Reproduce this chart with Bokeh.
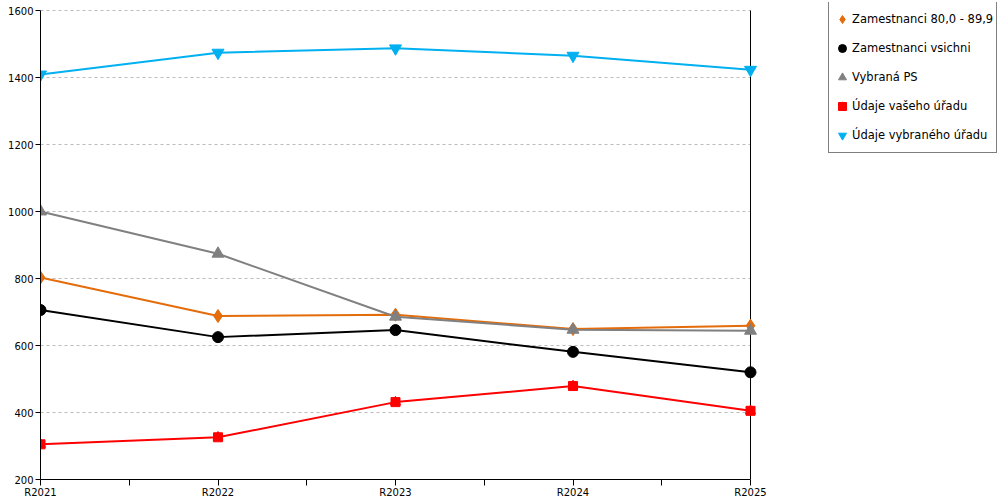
from bokeh.plotting import figure
from bokeh.models import Range1d, FixedTicker, Legend, LegendItem
from bokeh.embed import file_html
from bokeh.resources import INLINE

categories = ["R2021", "R2022", "R2023", "R2024", "R2025"]
zam_80_89 = [803, 688, 692, 649, 659]
zam_vsichni = [706, 625, 646, 581, 520]
vybrana_ps = [1000, 874, 686, 647, 644]
udaje_vaseho = [305, 326, 431, 479, 405]
udaje_vybraneho = [1409, 1474, 1487, 1465, 1423]
y_ticks = [200, 400, 600, 800, 1000, 1200, 1400, 1600]
names = ["Zamestnanci 80,0 - 89,9", "Zamestnanci vsichni", "Vybraná PS",
         "Údaje vašeho úřadu", "Údaje vybraného úřadu"]

FONT = "DejaVu Sans"
xs = list(range(len(categories)))

# layout (pixels)
W, H = 1000, 500
BORDER_L, BORDER_T = 40, 2
BOTTOM_PANEL = 21
FRAME_W = W - BORDER_L
FRAME_H = H - BORDER_T - BOTTOM_PANEL
DATA_W = 710          # pixel width covered by the categories
TOP_GAP = 8           # pixels between frame top and the top tick
x_end = (len(xs) - 1) * FRAME_W / DATA_W
y_per_px = (y_ticks[-1] - y_ticks[0]) / (FRAME_H - TOP_GAP)
y_end = y_ticks[-1] + TOP_GAP * y_per_px

p = figure(width=W, height=H,
           min_border_left=BORDER_L, min_border_top=BORDER_T, min_border_right=0,
           min_border_bottom=5,
           x_range=Range1d(0, x_end), y_range=Range1d(y_ticks[0], y_end),
           output_backend="svg", toolbar_location=None)
p.outline_line_color = None
p.background_fill_color = "white"
p.border_fill_color = "white"
p.xgrid.visible = False
p.ygrid.visible = False

# axes
p.xaxis.ticker = FixedTicker(ticks=xs, minor_ticks=[i + 0.5 for i in xs[:-1]])
p.xaxis.major_label_overrides = {i: c for i, c in zip(xs, categories)}
p.xaxis.bounds = (xs[0], xs[-1])
p.xaxis.major_tick_out = 6
p.xaxis.major_tick_in = 0
p.xaxis.minor_tick_out = 6
p.xaxis.minor_tick_in = 0
p.xaxis.major_label_standoff = 1
p.yaxis.ticker = FixedTicker(ticks=y_ticks, minor_ticks=[])
p.yaxis.bounds = (y_ticks[0], y_ticks[-1])
p.yaxis.major_tick_out = 5
p.yaxis.major_tick_in = 0
p.yaxis.major_label_standoff = 2
for ax in (p.xaxis[0], p.yaxis[0]):
    ax.axis_line_color = "black"
    ax.major_tick_line_color = "black"
    ax.minor_tick_line_color = "black"
    ax.major_label_text_font = FONT
    ax.major_label_text_font_size = "10px"
    ax.major_label_text_color = "black"

# horizontal dotted grid limited to the category span
p.segment(x0=[xs[0]] * len(y_ticks), x1=[xs[-1]] * len(y_ticks), y0=y_ticks, y1=y_ticks,
          line_color="#bbbbbb", line_dash="3 3", line_width=1)
# right border line
p.segment(x0=[xs[-1]], x1=[xs[-1]], y0=[y_ticks[0]], y1=[y_ticks[-1]],
          line_color="black", line_width=1)

items = []

c = "#E46C0A"
p.line(xs, zam_80_89, line_color=c, line_width=2)
r = p.scatter(xs, zam_80_89, marker="diamond", size=13, fill_color=c, line_color=c)
items.append(LegendItem(label=names[0], renderers=[r]))

c = "black"
p.line(xs, zam_vsichni, line_color=c, line_width=2)
r = p.scatter(xs, zam_vsichni, marker="circle", size=11, fill_color=c, line_color=c)
items.append(LegendItem(label=names[1], renderers=[r]))

c = "#808080"
p.line(xs, vybrana_ps, line_color=c, line_width=2)
r = p.scatter(xs, vybrana_ps, marker="triangle", size=12, fill_color=c, line_color=c)
items.append(LegendItem(label=names[2], renderers=[r]))

c = "#FF0000"
p.line(xs, udaje_vaseho, line_color=c, line_width=2)
r1 = p.scatter(xs, udaje_vaseho, marker="square", size=9, fill_color=c, line_color=c)
r2 = p.scatter(xs, udaje_vaseho, marker="triangle", size=10, fill_color=c, line_color=c)
items.append(LegendItem(label=names[3], renderers=[r1, r2]))

c = "#00B0F0"
p.line(xs, udaje_vybraneho, line_color=c, line_width=2)
r = p.scatter(xs, udaje_vybraneho, marker="inverted_triangle", size=12, fill_color=c, line_color=c)
items.append(LegendItem(label=names[4], renderers=[r]))

LEG_PAD, LEG_ROW, LEG_SP = 3, 28, 1
leg_h = 2 * LEG_PAD + len(items) * LEG_ROW + (len(items) - 1) * LEG_SP
legend = Legend(items=items, location=(788, FRAME_H - leg_h - 1),
                border_line_color="black", border_line_width=1,
                background_fill_color="white", background_fill_alpha=1,
                padding=LEG_PAD, spacing=LEG_SP, glyph_width=20, glyph_height=LEG_ROW,
                label_height=LEG_ROW, label_standoff=0, label_text_font=FONT,
                label_text_font_size="11.5px", label_text_color="black")
p.add_layout(legend)

open("out.html", "w").write(file_html(p, INLINE))
